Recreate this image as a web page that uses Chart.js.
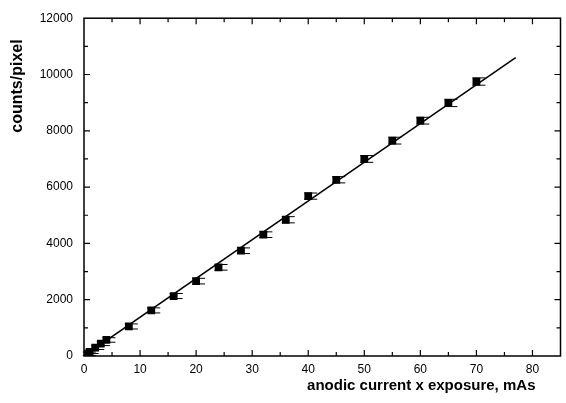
<!DOCTYPE html>
<html>
<head>
<meta charset="utf-8">
<script src="https://cdn.jsdelivr.net/npm/chart.js@4.4.1/dist/chart.umd.min.js"></script>
<style>
  html, body { margin: 0; padding: 0; background: #fff; }
  #wrap { width: 566px; height: 403px; }
</style>
</head>
<body>
<div id="wrap"><canvas id="grafik" width="566" height="403"></canvas></div>
<script>
// data yang dibaca dari gambar
const eksposur = [0.5, 1, 2, 3, 4, 8, 12, 16, 20, 24, 28, 32, 36, 40, 45, 50, 55, 60, 65, 70];
const hitungan = [80, 150, 300, 440, 570, 1050, 1620, 2130, 2660, 3150, 3740, 4310, 4840, 5680, 6260, 7000, 7650, 8360, 8990, 9750];
const galat = [60, 60, 70, 70, 80, 90, 90, 90, 100, 100, 100, 100, 110, 110, 110, 120, 120, 120, 130, 130];

// garis regresi
const garisX = [0, 77];
const garisY = [0, 10600];

const xLabels = [0, 10, 20, 30, 40, 50, 60, 70, 80];
const xTitle = 'anodic current x exposure, mAs';
const yTitle = 'counts/pixel';

const fontTick = { family: 'Liberation Sans, Arial, sans-serif', size: 12 };
const fontJudul = 'bold 15px "Liberation Sans", Arial, sans-serif';

// plugin: bingkai, tick ke dalam, error bar, judul sumbu
const bingkai = {
  id: 'bingkai',
  afterDatasetsDraw(chart) {
    const { ctx, chartArea: a, scales: { x, y } } = chart;
    ctx.save();
    ctx.strokeStyle = '#000';

    // error bar (tutup horizontal)
    ctx.lineWidth = 1;
    eksposur.forEach((v, i) => {
      const px = x.getPixelForValue(v);
      const atas = y.getPixelForValue(hitungan[i] + galat[i]);
      const bawah = y.getPixelForValue(hitungan[i] - galat[i]);
      ctx.beginPath();
      ctx.moveTo(px, atas); ctx.lineTo(px, bawah);
      ctx.moveTo(px - 4, atas); ctx.lineTo(px + 9, atas);
      ctx.moveTo(px - 4, bawah); ctx.lineTo(px + 9, bawah);
      ctx.stroke();
    });

    ctx.lineWidth = 1.5;
    ctx.strokeRect(a.left, a.top, a.right - a.left, a.bottom - a.top);

    ctx.lineWidth = 1.2;
    ctx.beginPath();
    for (let v = 5; v < x.max; v += 5) {
      const px = x.getPixelForValue(v);
      const len = v % 10 === 0 ? 6 : 4;
      ctx.moveTo(px, a.bottom); ctx.lineTo(px, a.bottom - len);
      ctx.moveTo(px, a.top); ctx.lineTo(px, a.top + len);
    }
    for (let v = 1000; v < y.max; v += 1000) {
      const py = y.getPixelForValue(v);
      const len = v % 2000 === 0 ? 6 : 4;
      ctx.moveTo(a.left, py); ctx.lineTo(a.left + len, py);
      ctx.moveTo(a.right, py); ctx.lineTo(a.right - len, py);
    }
    ctx.stroke();
    ctx.restore();
  },
  afterDraw(chart) {
    const { ctx, scales: { x } } = chart;
    ctx.save();
    ctx.fillStyle = '#000';
    ctx.font = fontJudul;
    ctx.textAlign = 'right';
    ctx.textBaseline = 'middle';
    ctx.fillText(xTitle, x.getPixelForValue(80) + 3, 386);

    ctx.font = 'bold 16px "Liberation Sans", Arial, sans-serif';
    ctx.translate(18, 86);
    ctx.rotate(-Math.PI / 2);
    ctx.textAlign = 'center';
    ctx.fillText(yTitle, 0, 0);
    ctx.restore();
  }
};

const ctx = document.getElementById('grafik').getContext('2d');
new Chart(ctx, {
  type: 'scatter',
  data: {
    datasets: [
      {
        label: 'data',
        data: eksposur.map((v, i) => ({ x: v, y: hitungan[i] })),
        pointStyle: 'rect',
        pointRadius: 5.5,
        backgroundColor: '#000',
        borderColor: '#000',
        borderWidth: 0,
        showLine: false
      },
      {
        label: 'fit',
        data: garisX.map((v, i) => ({ x: v, y: garisY[i] })),
        showLine: true,
        pointRadius: 0,
        borderColor: '#000',
        borderWidth: 1.5
      }
    ]
  },
  options: {
    responsive: false,
    animation: false,
    layout: { padding: { top: 15, right: 1, left: 0, bottom: 0 } },
    plugins: {
      legend: { display: false },
      tooltip: { enabled: false }
    },
    scales: {
      x: {
        type: 'linear',
        min: 0,
        max: 85,
        grid: { display: false, drawTicks: false },
        border: { display: false },
        afterBuildTicks: (s) => { s.ticks = xLabels.map(v => ({ value: v })); },
        afterFit: (s) => { s.height = 47; },
        ticks: { color: '#000', font: fontTick, padding: 6, maxRotation: 0, autoSkip: false }
      },
      y: {
        min: 0,
        max: 12000,
        grid: { display: false, drawTicks: false },
        border: { display: false },
        afterFit: (s) => { s.width = 84; },
        ticks: { stepSize: 2000, color: '#000', font: fontTick, padding: 11, callback: (v) => String(v) }
      }
    }
  },
  plugins: [bingkai]
});
</script>
</body>
</html>
